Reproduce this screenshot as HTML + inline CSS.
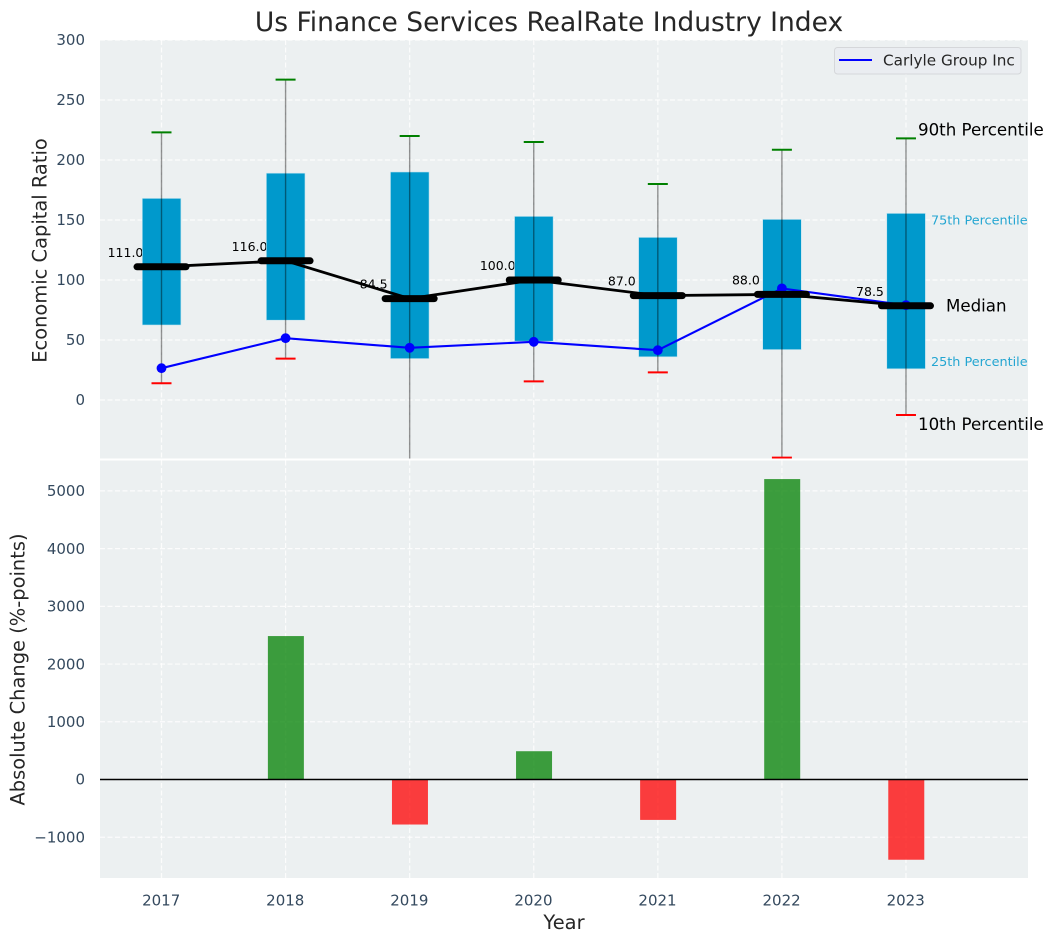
<!DOCTYPE html>
<html>
<head>
<meta charset="utf-8">
<title>Us Finance Services RealRate Industry Index</title>
<style>
html,body{margin:0;padding:0;background:#fff;width:1053px;height:942px;overflow:hidden}
svg{display:block}
text{font-family:"DejaVu Sans","Liberation Sans",sans-serif}
</style>
</head>
<body>
<svg id="chart" xmlns="http://www.w3.org/2000/svg" width="1053" height="942" viewBox="0 0 1053 942">
  <defs>
    <clipPath id="clip-top"><rect x="100" y="40" width="928" height="418.5"/></clipPath>
    <clipPath id="clip-bottom"><rect x="100" y="460.5" width="928" height="417.5"/></clipPath>
  </defs>
  <rect x="100" y="40" width="928" height="418.5" fill="#ecf0f1"/>
  <rect x="100" y="460.5" width="928" height="417.5" fill="#ecf0f1"/>
  <g id="grid-layer"></g>
  <g id="top-layer" clip-path="url(#clip-top)"></g>
  <g id="bottom-layer" clip-path="url(#clip-bottom)"></g>
  <g id="label-layer"></g>
  <text x="549" y="31" text-anchor="middle" font-size="26.5px" fill="#262626">Us Finance Services RealRate Industry Index</text>
  <text transform="translate(46.5,250.5) rotate(-90)" text-anchor="middle" font-size="19.44px" fill="#262626">Economic Capital Ratio</text>
  <text transform="translate(24.5,669.5) rotate(-90)" text-anchor="middle" font-size="19.44px" fill="#262626">Absolute Change (%-points)</text>
  <text x="564" y="929" text-anchor="middle" font-size="19.44px" fill="#262626">Year</text>
  <g>
    <rect x="834.5" y="47.5" width="186.5" height="26.5" rx="3" fill="#eaedf1" stroke="#d5d7da" stroke-width="1"/>
    <line x1="839" y1="60" x2="872" y2="60" stroke="#0000ff" stroke-width="2"/>
    <text x="883" y="65.5" font-size="15.25px" fill="#262626">Carlyle Group Inc</text>
  </g>
</svg>
<script>
const years = ["2017", "2018", "2019", "2020", "2021", "2022", "2023"];
const p90 = [223, 267, 220, 215, 180, 208.5, 218];
const p75 = [168, 189, 190, 153, 135.5, 150.5, 155.5];
const medians = [111, 116, 84.5, 100, 87, 88, 78.5];
const p25 = [62.5, 66.5, 34.5, 49, 36, 42, 26];
const p10 = [14, 34.5, -70, 15.5, 23, -48, -12.5];
const carlyle = [26.5, 51.5, 43.5, 48.5, 41.5, 93, 79];
const changes = [0, 2485, -780, 490, -700, 5205, -1390];
const topTicks = [0, 50, 100, 150, 200, 250, 300];
const bottomTicks = [-1000, 0, 1000, 2000, 3000, 4000, 5000];

const NS = 'http://www.w3.org/2000/svg';
const xScale = i => 161.5 + i * 124.08;
const yTop = v => 400 - v * 1.2;
const yBottom = v => 779.5 - v * 0.05772;

const gridLayer = document.getElementById('grid-layer');
const topLayer = document.getElementById('top-layer');
const bottomLayer = document.getElementById('bottom-layer');
const labelLayer = document.getElementById('label-layer');

function make(parent, tag, attrs, content) {
  const el = document.createElementNS(NS, tag);
  for (const k in attrs) el.setAttribute(k, attrs[k]);
  if (content !== undefined) el.textContent = content;
  parent.appendChild(el);
  return el;
}
const gridStyle = {stroke: '#ffffff', 'stroke-width': 1.2, 'stroke-dasharray': '5 2.5', opacity: 0.85};
const tickFont = '15px';

topTicks.forEach(t => {
  let el = make(gridLayer, 'line', {x1: 100, x2: 1028, y1: yTop(t), y2: yTop(t), ...gridStyle});
  
  
  el = make(labelLayer, 'text', {x: 85, y: yTop(t) + 5.2, 'text-anchor': 'end', 'font-size': tickFont, fill: '#34495e'}, String(t));
  
  
});
bottomTicks.forEach(t => {
  let el = make(gridLayer, 'line', {x1: 100, x2: 1028, y1: yBottom(t), y2: yBottom(t), ...gridStyle});
  
  
  el = make(labelLayer, 'text', {x: 85, y: yBottom(t) + 5.2, 'text-anchor': 'end', 'font-size': tickFont, fill: '#34495e'}, String(t).replace('-', '\u2212'));
  
  
});
years.forEach((y, i) => {
  let el = make(gridLayer, 'line', {x1: xScale(i), x2: xScale(i), y1: 40, y2: 458.5, ...gridStyle});
  
  
  el = make(gridLayer, 'line', {x1: xScale(i), x2: xScale(i), y1: 460.5, y2: 878, ...gridStyle});
  
  
  el = make(labelLayer, 'text', {x: xScale(i) - 0.3, y: 905.5, 'text-anchor': 'middle', 'font-size': tickFont, fill: '#34495e'}, y);
  
  
});

years.forEach((y, i) => {
  const el = make(topLayer, 'text', {x: xScale(i) - 36, y: yTop(medians[i]) - 10, 'text-anchor': 'middle', 'font-size': '12.5px', fill: '#000'}, medians[i].toFixed(1));
  
  
});

years.forEach((y, i) => {
  const cx = xScale(i);
  let el = make(topLayer, 'rect', {x: cx - 19.2, y: yTop(p75[i]), width: 38.6, height: yTop(p25[i]) - yTop(p75[i]), fill: '#0099cc', stroke: '#bfe3ef', 'stroke-width': 0.6});
  
  
  el = make(topLayer, 'line', {x1: cx, x2: cx, y1: yTop(p90[i]), y2: yTop(p10[i]), stroke: '#000', 'stroke-opacity': 0.42, 'stroke-width': 1.4});
  
  
  el = make(topLayer, 'line', {x1: cx - 10, x2: cx + 10, y1: yTop(p90[i]), y2: yTop(p90[i]), stroke: '#008000', 'stroke-width': 2});
  
  
  el = make(topLayer, 'line', {x1: cx - 10, x2: cx + 10, y1: yTop(p10[i]), y2: yTop(p10[i]), stroke: '#ff0000', 'stroke-width': 2});
  
  
});

let series = make(topLayer, 'polyline', {points: carlyle.map((v, i) => xScale(i) + ',' + yTop(v)).join(' '), fill: 'none', stroke: '#0000ff', 'stroke-width': 2.1});


carlyle.forEach((v, i) => {
  const el = make(topLayer, 'circle', {cx: xScale(i), cy: yTop(v), r: 4.9, fill: '#0000ff'});
  
  
});

series = make(topLayer, 'polyline', {points: medians.map((v, i) => xScale(i) + ',' + yTop(v)).join(' '), fill: 'none', stroke: '#000', 'stroke-width': 2.8});


medians.forEach((v, i) => {
  const el = make(topLayer, 'line', {x1: xScale(i) - 24.5, x2: xScale(i) + 24.5, y1: yTop(v), y2: yTop(v), stroke: '#000', 'stroke-width': 7, 'stroke-linecap': 'round'});
  
  
});

changes.forEach((v, i) => {
  if (!v) return;
  const y0 = yBottom(Math.max(v, 0));
  const y1 = yBottom(Math.min(v, 0));
  const el = make(bottomLayer, 'rect', {x: xScale(i) - 17.7, y: y0, width: 36, height: y1 - y0, fill: v > 0 ? '#008000' : '#ff0000', 'fill-opacity': 0.75});
  
  
});
const zero = make(bottomLayer, 'line', {x1: 100, x2: 1028, y1: yBottom(0), y2: yBottom(0), stroke: '#000', 'stroke-width': 1.4});



const last = years.length - 1;
const lx = xScale(last);
let note = make(labelLayer, 'text', {x: lx + 12, y: yTop(p90[last]) - 3, 'font-size': '16.67px', fill: '#000'}, '90th Percentile');


note = make(labelLayer, 'text', {x: lx + 25, y: yTop(p75[last]) + 11, 'font-size': '12.8px', fill: '#0099cc', opacity: 0.85}, '75th Percentile');


note = make(labelLayer, 'text', {x: lx + 40, y: yTop(medians[last]) + 5.5, 'font-size': '16.67px', fill: '#000'}, 'Median');


note = make(labelLayer, 'text', {x: lx + 25, y: yTop(p25[last]) - 3, 'font-size': '12.8px', fill: '#0099cc', opacity: 0.85}, '25th Percentile');


note = make(labelLayer, 'text', {x: lx + 12, y: yTop(p10[last]) + 15, 'font-size': '16.67px', fill: '#000'}, '10th Percentile');


</script>
</body>
</html>
